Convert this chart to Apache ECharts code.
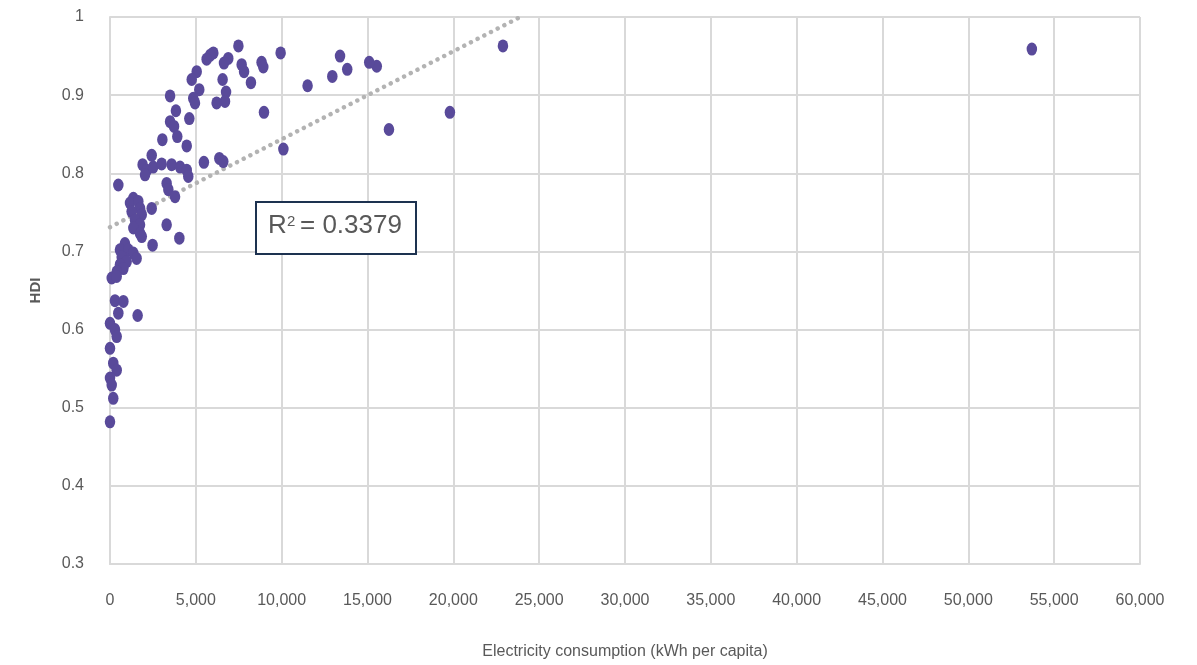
<!DOCTYPE html>
<html>
<head>
<meta charset="utf-8">
<script src="https://cdn.jsdelivr.net/npm/echarts@6/dist/echarts.min.js"></script>
<style>
  html, body { margin: 0; padding: 0; background: #ffffff; overflow: hidden; }
  #chart { width: 1197px; height: 100vh; }
</style>
</head>
<body>
<div id="chart"></div>
<script>
// Electricity consumption per capita (kWh) against Human Development Index
const consumption = [
  53700, 22890, 19800, 16250, 15540, 15100, 13820, 13400, 12950, 11510, 10100, 9940,
  8970, 8830, 8930, 8210, 7810, 7670, 7480,
  6890, 6640, 6560, 6760, 6700, 6210, 6020, 5830, 5630,
  5200, 5050, 4760, 4850, 4950,
  3500, 3840, 3500, 3730, 3920, 4620, 3050, 4470,
  2430, 1900, 2140, 2040, 2520, 3010, 3590, 4080, 4470, 4560,
  5470, 6370, 6600,
  485, 3300, 3400, 3790,
  1360, 1165, 1650, 1750, 1260, 1850, 1460, 1750, 1360, 1750, 1850, 2430,
  3300, 4040, 2480,
  870, 580, 1070, 1360, 680, 1550, 970, 580, 780, 390, 100, 390,
  290, 780, 485, 1610,
  0, 290, 390, 0, 190, 390, 0, 100, 190, 0
];
const hdi = [
  0.959, 0.963, 0.878, 0.856, 0.937, 0.942, 0.933, 0.950, 0.924, 0.912, 0.831, 0.954,
  0.878, 0.942, 0.936, 0.916, 0.930, 0.939, 0.963,
  0.947, 0.941, 0.920, 0.904, 0.892, 0.890, 0.954, 0.951, 0.946,
  0.907, 0.930, 0.920, 0.896, 0.890,
  0.899, 0.880, 0.866, 0.860, 0.847, 0.870, 0.843, 0.835,
  0.823, 0.811, 0.804, 0.798, 0.808, 0.812, 0.811, 0.808, 0.804, 0.796,
  0.814, 0.819, 0.815,
  0.785, 0.787, 0.779, 0.770,
  0.768, 0.762, 0.764, 0.755, 0.751, 0.747, 0.740, 0.734, 0.730, 0.723, 0.719, 0.755,
  0.734, 0.717, 0.708,
  0.710, 0.702, 0.702, 0.698, 0.693, 0.691, 0.687, 0.683, 0.678, 0.674, 0.666, 0.668,
  0.637, 0.636, 0.621, 0.618,
  0.608, 0.600, 0.591, 0.576, 0.557, 0.548, 0.538, 0.529, 0.512, 0.482
];
// Linear trend line end points (x, y)
const trendX = [0, 23900];
const trendY = [0.731, 1.0];
const rSquared = '0.3379';

const points = consumption.map((x, i) => [x, hdi[i]]);
const trend = trendX.map((x, i) => [x, trendY[i]]);

const FONT = '"Liberation Sans", Arial, Helvetica, sans-serif';
const TEXT = '#595959';
const GRID = '#d9d9d9';

const chart = echarts.init(document.getElementById('chart'), null, { renderer: 'canvas' });
chart.setOption({
  backgroundColor: '#ffffff',
  animation: false,
  grid: { left: 110, right: 57, top: 17, bottom: 95, containLabel: false },
  xAxis: {
    type: 'value',
    min: 0, max: 60000, interval: 5000,
    name: 'Electricity consumption (kWh per capita)',
    nameLocation: 'middle',
    nameGap: 80,
    nameTextStyle: { color: TEXT, fontSize: 16, fontFamily: FONT },
    axisLine: { show: true, lineStyle: { color: GRID, width: 2 } },
    axisTick: { show: false },
    axisLabel: {
      color: TEXT, fontSize: 16, fontFamily: FONT, margin: 29,
      formatter: v => v.toLocaleString('en-US')
    },
    splitLine: { show: true, lineStyle: { color: GRID, width: 2 } }
  },
  yAxis: {
    type: 'value',
    min: 0.3, max: 1, interval: 0.1,
    name: 'HDI',
    nameLocation: 'middle',
    nameGap: 67,
    nameTextStyle: { color: TEXT, fontSize: 15, fontWeight: 'bold', fontFamily: FONT },
    axisLine: { show: true, lineStyle: { color: GRID, width: 2 } },
    axisTick: { show: false },
    axisLabel: {
      color: TEXT, fontSize: 16, fontFamily: FONT, margin: 26,
      formatter: v => String(Math.round(v * 10) / 10)
    },
    splitLine: { show: true, lineStyle: { color: GRID, width: 2 } }
  },
  series: [
    {
      type: 'line',
      data: trend,
      showSymbol: false,
      symbol: 'none',
      z: 1,
      lineStyle: { color: '#b3b3b3', width: 4.5, type: [0.01, 7.5], cap: 'round' },
      silent: true
    },
    {
      type: 'scatter',
      data: points,
      symbol: 'circle',
      symbolSize: [10.5, 13],
      z: 3,
      itemStyle: { color: '#594a9a', opacity: 1 }
    }
  ],
  // R-squared annotation box
  graphic: [
    {
      type: 'rect',
      left: 255, top: 201, z: 100,
      shape: { x: 0, y: 0, width: 160, height: 52 },
      style: { fill: '#ffffff', stroke: '#1d3250', lineWidth: 2 }
    },
    {
      type: 'text',
      x: 268, y: 225.4, z: 101,
      style: { text: 'R', font: '26px ' + FONT, fill: TEXT, verticalAlign: 'middle', align: 'left' }
    },
    {
      type: 'text',
      x: 287, y: 221.5, z: 101,
      style: { text: '2', font: '15px ' + FONT, fill: TEXT, verticalAlign: 'middle', align: 'left' }
    },
    {
      type: 'text',
      x: 300, y: 225.4, z: 101,
      style: { text: '= ' + rSquared, font: '26px ' + FONT, fill: TEXT, verticalAlign: 'middle', align: 'left' }
    }
  ]
});
</script>
</body>
</html>
